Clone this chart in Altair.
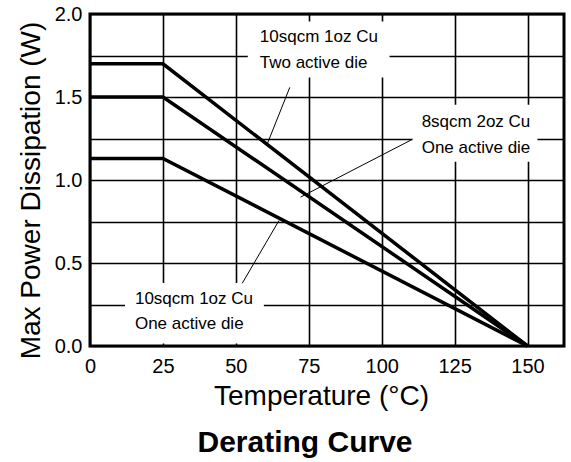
import altair as alt
import pandas as pd

# ---- data ----
temps = [0, 25, 150]
series_names = ["10sqcm 1oz Cu, Two active die",
                "8sqcm 2oz Cu, One active die",
                "10sqcm 1oz Cu, One active die"]
power_two_die = [1.70, 1.70, 0.0]
power_8sqcm = [1.50, 1.50, 0.0]
power_one_die = [1.13, 1.13, 0.0]

x_grid = [i * 12.5 for i in range(14)]      # 0 .. 162.5
y_grid = [i * 0.25 for i in range(9)]       # 0 .. 2.0

# annotation labels (two lines each), positions in data units
label_line1 = ["10sqcm 1oz Cu", "8sqcm 2oz Cu", "10sqcm 1oz Cu"]
label_line2 = ["Two active die", "One active die", "One active die"]
label_x = [58.2, 113.7, 15.4]
label_y1 = [1.86, 1.351, 0.284]
label_y2 = [1.706, 1.195, 0.133]
box_x = [54.1, 110.6, 12.0]
box_x2 = [102.7, 153.4, 59.6]
box_y = [1.617, 1.11, 0.015]
box_y2 = [1.955, 1.454, 0.38]
leader_x = [68.5, 110.3, 52.2]
leader_y = [1.558, 1.243, 0.378]
leader_x2 = [60.9, 72.2, 64.8]
leader_y2 = [1.223, 0.897, 0.756]

FONT = "Liberation Sans"

rows = []
for name, vals in zip(series_names, [power_two_die, power_8sqcm, power_one_die]):
    for t, p in zip(temps, vals):
        rows.append({"series": name, "temp": t, "power": p})
lines_df = pd.DataFrame(rows)

text_rows = []
for i in range(3):
    text_rows.append({"t": label_line1[i], "x": label_x[i], "y": label_y1[i]})
    text_rows.append({"t": label_line2[i], "x": label_x[i], "y": label_y2[i]})
text_df = pd.DataFrame(text_rows)
box_df = pd.DataFrame({"x": box_x, "x2": box_x2, "y": box_y, "y2": box_y2})
leader_df = pd.DataFrame({"x": leader_x, "y": leader_y, "x2": leader_x2, "y2": leader_y2})

xscale = alt.Scale(domain=[0, 162.5], nice=False, zero=False)
yscale = alt.Scale(domain=[0, 2.0], nice=False)

xaxis = alt.Axis(values=x_grid, grid=True, gridColor="black", gridWidth=1.6, gridOpacity=1,
                 ticks=False, domain=False,
                 labelExpr="datum.value % 25 == 0 && datum.value <= 150 ? format(datum.value, 'd') : ''",
                 labelFont=FONT, labelFontSize=20, labelColor="black", labelPadding=10,
                 title="Temperature (°C)", titleFont=FONT, titleFontSize=28, titleFontWeight="normal",
                 titleColor="black", titlePadding=6, titleX=231, titleAnchor="start", titleAlign="center",
                 labelFlush=False, labelOverlap=False)
yaxis = alt.Axis(values=y_grid, grid=True, gridColor="black", gridWidth=1.6, gridOpacity=1,
                 ticks=False, domain=False,
                 labelExpr="datum.value * 2 % 1 == 0 ? format(datum.value, '.1f') : ''",
                 labelFont=FONT, labelFontSize=20, labelColor="black", labelPadding=8,
                 title="Max Power Dissipation (W)", titleFont=FONT, titleFontSize=28,
                 titleFontWeight="normal", titleColor="black", titlePadding=9,
                 titleY=176, titleAlign="center",
                 labelFlush=False, labelOverlap=False)

lines = alt.Chart(lines_df).mark_line(color="black", strokeWidth=3.5, strokeCap="butt").encode(
    x=alt.X("temp:Q", scale=xscale, axis=xaxis),
    y=alt.Y("power:Q", scale=yscale, axis=yaxis),
    detail="series:N",
)
boxes = alt.Chart(box_df).mark_rect(color="white").encode(
    x=alt.X("x:Q", scale=xscale), x2="x2:Q",
    y=alt.Y("y:Q", scale=yscale), y2="y2:Q",
)
leaders = alt.Chart(leader_df).mark_rule(color="black", strokeWidth=1).encode(
    x=alt.X("x:Q", scale=xscale), x2="x2:Q",
    y=alt.Y("y:Q", scale=yscale), y2="y2:Q",
)
texts = alt.Chart(text_df).mark_text(align="left", baseline="middle", font=FONT,
                                     fontSize=17, color="black").encode(
    x=alt.X("x:Q", scale=xscale),
    y=alt.Y("y:Q", scale=yscale),
    text="t:N",
)

chart = alt.layer(boxes, lines, leaders, texts).properties(
    width=474, height=332,
    autosize=alt.AutoSizeParams(type="none"),
    padding={"left": 90, "top": 14, "right": 7, "bottom": 116},
    background="white",
    title=alt.Title("Derating Curve", orient="bottom", font=FONT, fontSize=30,
                    fontWeight="bold", color="black", offset=18, dx=-22),
).configure_view(stroke="black", strokeWidth=3)

chart.save("out.html", embed_options={"renderer": "svg", "actions": False})
